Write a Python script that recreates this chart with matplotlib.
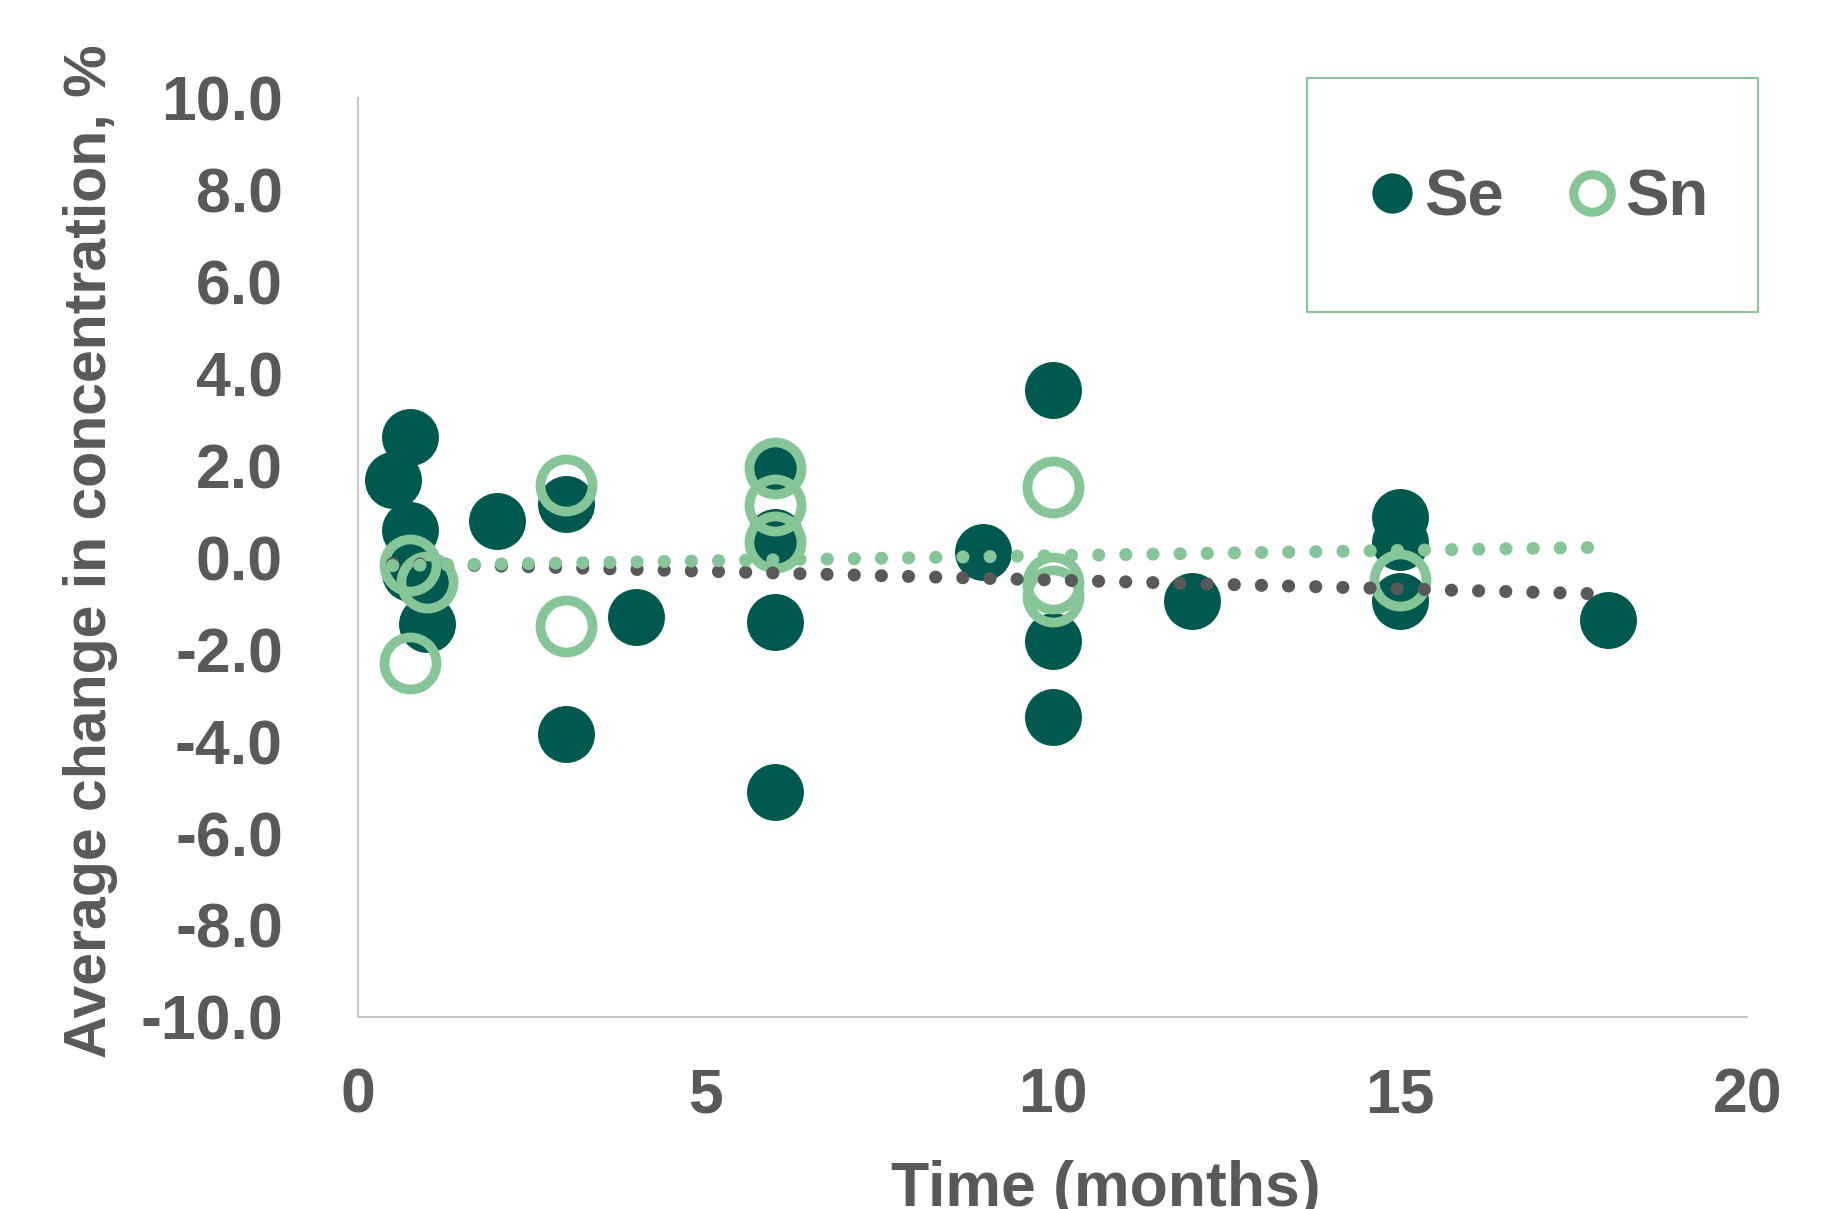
import matplotlib
matplotlib.use("Agg")
import matplotlib.pyplot as plt
from matplotlib.lines import Line2D
from matplotlib.patches import Rectangle

# data
se_x = [0.5, 0.75, 0.75, 0.75, 1, 1, 2, 3, 3, 4, 6, 6, 6, 6, 9, 10, 10, 10, 12, 15, 15, 15, 18]
se_y = [1.68, 2.63, 0.59, -0.35, -0.55, -1.44, 0.8, 1.17, -3.84, -1.3, 1.93, 0.45, -1.41, -5.1,
        0.12, 3.65, -1.81, -3.48, -0.94, 0.88, 0.33, -0.94, -1.37]

sn_x = [0.75, 0.75, 1, 3, 3, 6, 6, 6, 10, 10, 10, 15]
sn_y = [-0.17, -2.31, -0.54, 1.58, -1.5, 1.95, 1.13, 0.33, 1.53, -0.55, -0.85, -0.5]

# trendline end points (as drawn)
trend_x = [0.5, 18]
se_trend = [-0.13, -0.8]
sn_trend = [-0.18, 0.22]

y_ticks = [10, 8, 6, 4, 2, 0, -2, -4, -6, -8, -10]
y_labels = ["10.0", "8.0", "6.0", "4.0", "2.0", "0.0", "-2.0", "-4.0", "-6.0", "-8.0", "-10.0"]
x_ticks = [0, 5, 10, 15, 20]

se_col = "#00594F"
sn_col = "#86C598"
grey = "#595959"

plt.rcParams["font.family"] = ["Liberation Sans", "DejaVu Sans"]

fig = plt.figure(figsize=(18.45, 12.09), dpi=100)
ax = fig.add_axes([0.194, 0.159, 0.753, 0.760])

ax.plot(se_x, se_y, "o", ms=41, color=se_col, mec=se_col, mew=0, zorder=2)
ax.plot(sn_x, sn_y, "o", ms=37.5, mfc="none", mec=sn_col, mew=7, zorder=3)

ax.plot(trend_x, se_trend, color=grey, lw=9.4, ls=(0, (0.01, 2.07)),
        dash_capstyle="round", zorder=4)
ax.plot(trend_x, sn_trend, color=sn_col, lw=9.4, ls=(0, (0.01, 2.07)),
        dash_capstyle="round", zorder=5)

ax.set_xlim(0, 20)
ax.set_ylim(-10, 10)
ax.set_xticks(x_ticks)
ax.set_yticks(y_ticks)
ax.set_yticklabels(y_labels)

for s in ["top", "right"]:
    ax.spines[s].set_visible(False)
for s in ["left", "bottom"]:
    ax.spines[s].set_color("#C8C8C8")
    ax.spines[s].set_linewidth(1.5)

ax.tick_params(length=0, labelsize=45, labelcolor=grey)
ax.tick_params(axis="y", pad=54)
ax.tick_params(axis="x", pad=36)
for lab in ax.get_xticklabels() + ax.get_yticklabels():
    lab.set_fontweight("bold")

fig.text(0.049, 0.544, "Average change in concentration, %", rotation=90,
         ha="center", va="center", fontsize=42.5, fontweight="bold", color=grey)
fig.text(0.5995, 0.0025, "Time (months)", ha="center", va="baseline",
         fontsize=45, fontweight="bold", color=grey)

# legend box
fig.patches.append(Rectangle((0.7084, 0.742), 0.2444, 0.1935, transform=fig.transFigure,
                             fill=False, edgecolor=sn_col, lw=1.5))
handles = [
    Line2D([], [], ls="none", marker="o", ms=29, color=se_col, mew=0),
    Line2D([], [], ls="none", marker="o", ms=27, mfc="none", mec=sn_col, mew=6.5),
]
leg = fig.legend(handles, ["Se", "Sn"], ncol=2, loc="center",
                 bbox_to_anchor=(1540 / 1845, 1 - 199 / 1209), bbox_transform=fig.transFigure,
                 frameon=False, handlelength=0.6, handletextpad=0.2, columnspacing=1.05,
                 prop={"size": 47, "weight": "bold"})
for t in leg.get_texts():
    t.set_color(grey)

fig.savefig("out.png", dpi=100)
